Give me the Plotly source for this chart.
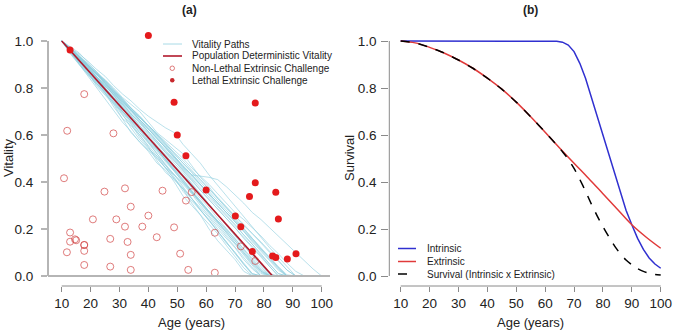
import plotly.graph_objects as go

W, H = 674, 335
FONT = "Liberation Sans, Arial, Helvetica, sans-serif"

# ---------------- Panel (a) data ----------------
AGE_GRID = list(range(10, 101, 3))
VITALITY_PATHS = [
    [1.0, .96, .92, .87, .81, .77, .73, .67, .61, .57, .53, .48, .45, .40, .34, .30, .26, .20, .15, .11, .07, .02, 0],
    [1.0, .95, .91, .875, .83, .78, .72, .67, .64, .60, .55, .49, .44, .41, .37, .31, .26, .22, .18, .13, .08, .035, 0],
    [1, .96, .905, .86, .83, .79, .74, .69, .63, .58, .54, .51, .47, .42, .36, .32, .28, .24, .19, .14, .10, .05, .01, 0],
    [1, .955, .915, .87, .82, .775, .735, .695, .65, .60, .555, .51, .46, .41, .37, .33, .28, .235, .19, .145, .10, .05, .01, 0],
    [1, .97, .93, .88, .83, .79, .75, .70, .66, .61, .57, .52, .47, .43, .38, .33, .29, .25, .20, .16, .12, .07, .03, 0],
    [1, .96, .92, .875, .84, .80, .75, .70, .655, .61, .565, .525, .48, .43, .39, .35, .30, .255, .21, .165, .12, .075, .035, 0],
    [1, .955, .91, .87, .83, .785, .745, .70, .66, .62, .57, .53, .485, .445, .40, .355, .31, .265, .22, .175, .135, .09, .045, 0],
    [1, .965, .93, .895, .85, .80, .76, .72, .68, .64, .59, .54, .49, .45, .41, .36, .31, .27, .23, .19, .15, .10, .055, .015, 0],
    [1, .95, .905, .86, .82, .785, .75, .71, .67, .63, .59, .545, .50, .455, .41, .365, .32, .275, .235, .195, .15, .105, .06, .02, 0],
    [1, .96, .92, .875, .84, .80, .755, .715, .67, .625, .575, .535, .495, .455, .42, .375, .33, .29, .245, .20, .16, .115, .07, .025, 0],
    [1, .97, .935, .90, .86, .815, .78, .735, .69, .655, .61, .565, .52, .48, .44, .395, .35, .305, .26, .215, .17, .13, .085, .04, 0],
    [1, .96, .925, .885, .845, .80, .765, .725, .685, .64, .60, .555, .515, .47, .43, .39, .345, .305, .26, .22, .18, .135, .09, .05, .005, 0],
    [1, .965, .93, .89, .85, .81, .775, .735, .70, .66, .615, .57, .53, .49, .45, .41, .365, .325, .285, .245, .205, .16, .12, .08, .04, 0],
    [1, .955, .915, .88, .845, .81, .77, .73, .69, .65, .605, .565, .525, .49, .445, .405, .365, .325, .285, .245, .205, .165, .125, .085, .04, 0],
    [1, .97, .94, .90, .865, .825, .79, .75, .705, .665, .625, .585, .545, .50, .46, .42, .385, .345, .30, .26, .22, .175, .135, .095, .05, .01, 0],
    [1, .96, .925, .885, .85, .81, .77, .73, .69, .655, .615, .575, .535, .495, .455, .415, .375, .335, .295, .255, .215, .175, .135, .09, .05, .01, 0],
    [1, .97, .935, .905, .87, .835, .795, .755, .715, .68, .64, .60, .56, .52, .48, .44, .40, .36, .32, .28, .24, .20, .16, .115, .075, .035, 0],
    [1, .96, .92, .885, .845, .805, .775, .74, .705, .665, .625, .585, .545, .505, .465, .43, .39, .35, .31, .27, .235, .195, .155, .115, .08, .04, .005, 0],
    [1, .965, .93, .895, .86, .83, .79, .75, .715, .68, .64, .605, .565, .525, .49, .45, .41, .37, .335, .295, .255, .22, .18, .145, .105, .065, .025, 0],
    [1, .97, .935, .90, .86, .82, .785, .745, .71, .675, .64, .60, .56, .52, .48, .445, .41, .37, .33, .29, .255, .215, .18, .14, .10, .065, .025, 0],
    [1, .96, .93, .895, .865, .825, .78, .74, .705, .675, .64, .605, .57, .535, .50, .46, .425, .39, .35, .31, .27, .24, .205, .17, .13, .095, .055, .02, 0],
    [1, .965, .935, .90, .865, .83, .79, .755, .715, .675, .635, .595, .555, .51, .465, .43, .425, .42, .41, .38, .345, .31, .27, .24, .205, .17, .135, .10, .065, .03, 0],
    [1, .975, .95, .91, .87, .82, .77, .72, .68, .63, .58, .54, .49, .445, .40, .36, .315, .27, .225, .18, .14, .10, .06, .02, 0],
    [1, .945, .90, .855, .815, .775, .74, .70, .665, .625, .585, .55, .51, .47, .43, .39, .35, .305, .26, .22, .175, .13, .09, .05, .01, 0],
    [1, .96, .925, .895, .86, .82, .785, .745, .705, .665, .63, .59, .55, .51, .47, .43, .39, .35, .31, .27, .23, .19, .145, .105, .065, .025, 0],
    [1, .955, .915, .865, .82, .78, .73, .685, .645, .59, .545, .50, .455, .415, .375, .33, .285, .24, .19, .145, .095, .05, .005, 0],
    [1, .97, .93, .89, .85, .815, .78, .745, .705, .665, .625, .585, .545, .505, .465, .43, .39, .35, .31, .27, .23, .19, .15, .11, .07, .03, 0],
    [1, .96, .92, .885, .845, .80, .755, .715, .675, .63, .585, .54, .495, .45, .405, .36, .32, .275, .23, .185, .14, .095, .05, .01, 0],
    [1, .97, .945, .915, .88, .85, .81, .775, .745, .71, .68, .655, .63, .61, .56, .52, .48, .43, .385, .34, .295, .25, .205, .165, .12, .08, .04, 0],
    [1, .95, .90, .85, .80, .755, .70, .655, .615, .57, .535, .50, .46, .43, .395, .355, .315, .275, .235, .20, .16, .115, .075, .03, 0],
    [1, .965, .925, .89, .86, .835, .80, .76, .73, .70, .655, .61, .58, .55, .52, .47, .42, .38, .33, .29, .245, .20, .16, .12, .075, .035, 0],
]

DET_AGE = [10, 83]
DET_VIT = [1.0, 0.0]

NONLETHAL_AGE = [10.8, 11.8, 12.9, 12.9, 14.6, 15.0, 17.8, 17.8, 17.8, 17.8, 20.8, 24.8, 26.8, 26.8,
                 28.9, 31.9, 31.9, 32.8, 33.9, 33.9, 33.9, 37.9, 40.0, 42.9, 44.9, 48.9, 51.0, 53.0,
                 53.8, 55.0, 63.0, 63.0, 72.0, 77.0, 11.9, 17.8, 27.9]
NONLETHAL_VIT = [0.416, 0.101, 0.185, 0.146, 0.156, 0.152, 0.132, 0.107, 0.047, 0.774, 0.241, 0.359, 0.158, 0.040,
                 0.241, 0.373, 0.210, 0.145, 0.295, 0.090, 0.026, 0.210, 0.257, 0.165, 0.363, 0.207, 0.095, 0.321,
                 0.026, 0.357, 0.184, 0.014, 0.126, 0.064, 0.618, 0.132, 0.607]
LETHAL_AGE = [12.9, 40.0, 48.9, 77.0, 50.0, 53.0, 60.0, 77.0, 75.0, 84.1, 70.1, 72.0, 85.0, 76.0, 83.0, 84.1, 88.1, 91.1]
LETHAL_VIT = [0.962, 1.023, 0.739, 0.736, 0.600, 0.512, 0.366, 0.397, 0.338, 0.356, 0.255, 0.210, 0.243, 0.104,
              0.085, 0.079, 0.072, 0.095]

# ---------------- Panel (b) data ----------------
INT_AGE = [10, 20, 30, 40, 50, 60, 62, 64, 66, 68, 70, 72, 74, 76, 78, 80, 82, 84, 86, 88, 90, 92, 94, 96, 98, 100]
INTRINSIC = [1.0, 1.0, 1.0, 1.0, 1.0, 1.0, 1.0, 0.999, 0.995, 0.983, 0.955, 0.905, 0.84, 0.76, 0.68, 0.60,
             0.52, 0.43, 0.35, 0.28, 0.218, 0.16, 0.113, 0.077, 0.051, 0.033]
EXT_AGE = [10, 15, 20, 25, 30, 35, 40, 45, 50, 55, 60, 65, 70, 75, 80, 85, 90, 95, 100]
EXTRINSIC = [1.0, 0.992, 0.973, 0.949, 0.919, 0.884, 0.842, 0.795, 0.740, 0.678, 0.612, 0.545, 0.480,
             0.416, 0.350, 0.284, 0.218, 0.165, 0.118]
TOT_AGE = [10, 15, 20, 25, 30, 35, 40, 45, 50, 55, 60, 62, 64, 66, 68, 70, 72, 74, 76, 78, 80, 82, 84, 86,
           88, 90, 92, 94, 96, 98, 100]
TOTAL = [1.0, 0.992, 0.973, 0.949, 0.919, 0.884, 0.842, 0.795, 0.740, 0.678, 0.612, 0.585, 0.557, 0.529,
         0.497, 0.458, 0.411, 0.360, 0.306, 0.256, 0.210, 0.168, 0.128, 0.095, 0.068, 0.0475, 0.0315,
         0.0198, 0.0119, 0.0069, 0.0039]

X_TICKS = [10, 20, 30, 40, 50, 60, 70, 80, 90, 100]
Y_TICKS = [0.0, 0.2, 0.4, 0.6, 0.8, 1.0]
Y_TICKTEXT = ["0.0", "0.2", "0.4", "0.6", "0.8", "1.0"]

# ---------------- colours ----------------
PATH_COL = "rgba(140,205,222,0.75)"
DET_COL = "#B2182B"
LETHAL_COL = "#E41A1C"
NONLETHAL_COL = "rgba(210,70,70,0.7)"
BLUE = "#3030D0"
RED = "#E03A3A"


def px(x):
    return x / W


def py(y):
    return 1 - y / H


fig = go.Figure()

for vals in VITALITY_PATHS:
    fig.add_trace(go.Scatter(x=AGE_GRID[:len(vals)], y=vals, mode="lines",
                             line=dict(color=PATH_COL, width=0.8), xaxis="x", yaxis="y",
                             hoverinfo="skip"))
fig.add_trace(go.Scatter(x=DET_AGE, y=DET_VIT, mode="lines", line=dict(color=DET_COL, width=1.6),
                         xaxis="x", yaxis="y"))
fig.add_trace(go.Scatter(x=NONLETHAL_AGE, y=NONLETHAL_VIT, mode="markers",
                         marker=dict(symbol="circle-open", size=7, color=NONLETHAL_COL, line=dict(width=1)),
                         xaxis="x", yaxis="y", cliponaxis=False))
fig.add_trace(go.Scatter(x=LETHAL_AGE, y=LETHAL_VIT, mode="markers",
                         marker=dict(symbol="circle", size=7, color=LETHAL_COL),
                         xaxis="x", yaxis="y", cliponaxis=False))

fig.add_trace(go.Scatter(x=INT_AGE, y=INTRINSIC, mode="lines", line=dict(color=BLUE, width=1.5),
                         xaxis="x2", yaxis="y2"))
fig.add_trace(go.Scatter(x=EXT_AGE, y=EXTRINSIC, mode="lines", line=dict(color=RED, width=1.5, shape="spline"),
                         xaxis="x2", yaxis="y2"))
fig.add_trace(go.Scatter(x=TOT_AGE, y=TOTAL, mode="lines",
                         line=dict(color="black", width=1.5, dash="dash", shape="spline", smoothing=0.6),
                         xaxis="x2", yaxis="y2"))

Y_RANGE = [(276 - 286) / 235, (276 - 30) / 235]
Y_DOMAIN = [py(286), py(30)]
tickfont = dict(family=FONT, size=13.5, color="#222")

common_x = dict(tickvals=X_TICKS, ticks="outside", ticklen=5, tickwidth=1, tickcolor="#8a8a8a",
                showline=False, showgrid=False, zeroline=False, tickfont=tickfont, fixedrange=True,
                automargin=False)
common_y = dict(tickvals=Y_TICKS, ticktext=Y_TICKTEXT, ticks="outside", showline=False, showgrid=False,
                zeroline=False, tickfont=tickfont, range=Y_RANGE, domain=Y_DOMAIN, fixedrange=True,
                automargin=False)

fig.update_layout(
    width=W, height=H, margin=dict(l=0, r=0, t=0, b=0, autoexpand=False), autosize=False,
    paper_bgcolor="white", plot_bgcolor="white", showlegend=False,
    font=dict(family=FONT, color="#222"),
    xaxis=dict(domain=[px(48), px(330)], range=[10 + (48 - 61.7) / 2.889, 10 + (330 - 61.7) / 2.889],
               anchor="y", **common_x),
    yaxis=dict(anchor="x", ticklen=6, tickwidth=1.5, tickcolor="#b5b5b5", ticklabelstandoff=5, **common_y),
    xaxis2=dict(domain=[px(389.3), px(670)], range=[10 + (389.3 - 400.7) / 2.889, 10 + (670 - 400.7) / 2.889],
                anchor="y2", **common_x),
    yaxis2=dict(anchor="x2", ticklen=7, tickwidth=1, tickcolor="#8a8a8a", ticklabelstandoff=2, **common_y),
)

shapes = [
    # panel (a) axes
    dict(type="line", xref="x domain", yref="y", x0=0, x1=0, y0=0, y1=1, line=dict(color="#b5b5b5", width=2)),
    dict(type="line", xref="x domain", yref="y", x0=0, x1=1, y0=0, y1=0, line=dict(color="#b5b5b5", width=2)),
    dict(type="line", xref="x", yref="y domain", x0=10, x1=100, y0=0, y1=0, line=dict(color="#8a8a8a", width=1)),
    # panel (b) axes
    dict(type="line", xref="x2 domain", yref="y2", x0=0, x1=0, y0=0, y1=1, line=dict(color="#8a8a8a", width=1)),
    dict(type="line", xref="x2", yref="y2 domain", x0=10, x1=100, y0=0, y1=0, line=dict(color="#8a8a8a", width=1)),
    # legend (a)
    dict(type="line", xref="paper", yref="paper", x0=px(163), x1=px(182), y0=py(44), y1=py(44),
         line=dict(color=PATH_COL, width=1)),
    dict(type="line", xref="paper", yref="paper", x0=px(163), x1=px(182), y0=py(56), y1=py(56),
         line=dict(color=DET_COL, width=1.6)),
    dict(type="circle", xref="paper", yref="paper", x0=px(170), x1=px(174.5), y0=py(66), y1=py(70.5),
         line=dict(color=NONLETHAL_COL, width=1)),
    dict(type="circle", xref="paper", yref="paper", x0=px(170), x1=px(174.5), y0=py(78), y1=py(82.5),
         line=dict(color="#C8282D", width=0), fillcolor="#C8282D"),
    # legend (b)
    dict(type="line", xref="paper", yref="paper", x0=px(398), x1=px(416), y0=py(248.5), y1=py(248.5),
         line=dict(color=BLUE, width=1.5)),
    dict(type="line", xref="paper", yref="paper", x0=px(398), x1=px(416), y0=py(261.5), y1=py(261.5),
         line=dict(color=RED, width=1.5)),
    dict(type="line", xref="paper", yref="paper", x0=px(398), x1=px(416), y0=py(274), y1=py(274),
         line=dict(color="black", width=1.5, dash="dash")),
]
fig.update_layout(shapes=shapes)


def ann(text, x, y, size, xanchor="center", angle=0, bold=False):
    fig.add_annotation(text=("<b>%s</b>" % text) if bold else text, x=px(x), y=py(y), xref="paper",
                       yref="paper", showarrow=False, xanchor=xanchor, yanchor="middle", textangle=angle,
                       font=dict(family=FONT, size=size, color="#222"))


ann("(a)", 189, 9.5, 12, bold=True)
ann("(b)", 530.7, 9.5, 12, bold=True)
ann("Age (years)", 191.7, 322, 13)
ann("Age (years)", 530.7, 322, 13)
ann("Vitality", 8, 158, 13, angle=-90)
ann("Survival", 349, 158, 13, angle=-90)

for txt, y in [("Vitality Paths", 44), ("Population Deterministic Vitality", 56),
               ("Non-Lethal Extrinsic Challenge", 68), ("Lethal Extrinsic Challenge", 80)]:
    ann(txt, 190, y, 10, xanchor="left")
for txt, y in [("Intrinsic", 248.5), ("Extrinsic", 261.5), ("Survival (Intrinsic x Extrinsic)", 274)]:
    ann(txt, 425, y, 10, xanchor="left")

fig.write_html("out.html", config={"displayModeBar": False},
               post_script="document.body.style.margin='0';document.body.style.overflow='hidden';")
